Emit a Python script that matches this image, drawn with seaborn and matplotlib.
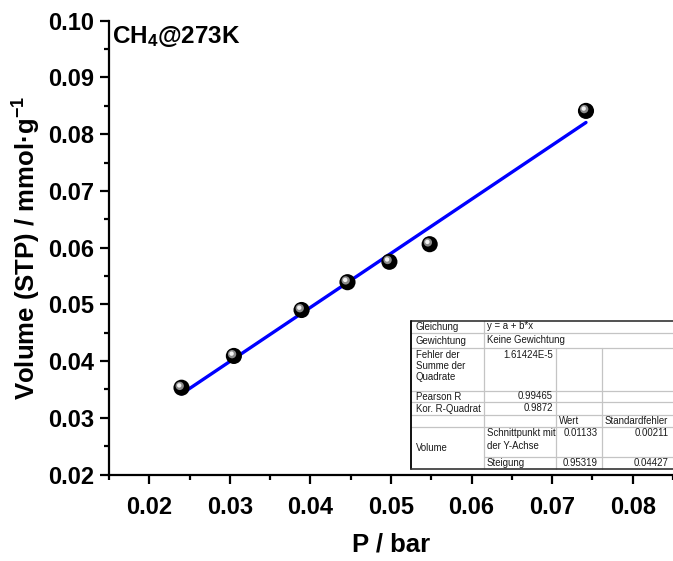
import numpy as np
import pandas as pd
import matplotlib
matplotlib.use("Agg")
import matplotlib.pyplot as plt
import matplotlib.transforms as mtransforms
import seaborn as sns

# ---------------- data ----------------
pressure = [0.0240, 0.0305, 0.0389, 0.0446, 0.0498, 0.0548, 0.0742]
volume = [0.0353, 0.0409, 0.0490, 0.0539, 0.0575, 0.0606, 0.0841]
intercept = 0.01133
slope = 0.95319
x_ticks = [0.02, 0.03, 0.04, 0.05, 0.06, 0.07, 0.08]
y_ticks = [0.02, 0.03, 0.04, 0.05, 0.06, 0.07, 0.08, 0.09, 0.10]
title_text = "CH$_4$@273K"
xlabel_text = "P / bar"
ylabel_text = "Volume (STP) / mmol·g$^{-1}$"

# fit-report table contents
tbl_gleichung = ["Gleichung", "y = a + b*x"]
tbl_gewichtung = ["Gewichtung", "Keine Gewichtung"]
tbl_fehler = ["Fehler der\nSumme der\nQuadrate", "1.61424E-5"]
tbl_pearson = ["Pearson R", "0.99465"]
tbl_kor = ["Kor. R-Quadrat", "0.9872"]
tbl_header = ["Wert", "Standardfehler"]
tbl_volume = "Volume"
tbl_schnitt = ["Schnittpunkt mit", "der Y-Achse", "0.01133", "0.00211"]
tbl_steigung = ["Steigung", "0.95319", "0.04427"]

# ---------------- style ----------------
sns.set_theme(style="ticks")
plt.rcParams["font.family"] = ["Liberation Sans", "DejaVu Sans"]
plt.rcParams["mathtext.fontset"] = "custom"
plt.rcParams["mathtext.rm"] = "Liberation Sans:bold"
plt.rcParams["mathtext.bf"] = "Liberation Sans:bold"
plt.rcParams["mathtext.it"] = "Liberation Sans:bold"
plt.rcParams["mathtext.default"] = "bf"

W, H = 673, 561
fig = plt.figure(figsize=(W / 100, H / 100), dpi=100)
fig.patch.set_facecolor("white")

ax_left, ax_right, ax_top, ax_bottom = 109, 673, 20.7, 474.5
ax = fig.add_axes([ax_left / W, 1 - ax_bottom / H,
                   (ax_right - ax_left) / W, (ax_bottom - ax_top) / H])
ax.set_facecolor("white")

df_pts = pd.DataFrame({"P": pressure, "V": volume})
xfit = [min(pressure), max(pressure)]
df_fit = pd.DataFrame({"P": xfit, "V": [intercept + slope * x for x in xfit]})

sns.lineplot(data=df_fit, x="P", y="V", ax=ax, color="#0000ff", linewidth=2.4, zorder=2)

# spheres: black ball + highlight layers
sns.scatterplot(data=df_pts, x="P", y="V", ax=ax, color="black", s=135,
                edgecolor="none", zorder=3, legend=False)
off1 = mtransforms.offset_copy(ax.transData, fig=fig, x=-1.8, y=1.8, units="dots")
off2 = mtransforms.offset_copy(ax.transData, fig=fig, x=-2.3, y=2.3, units="dots")
ax.scatter(pressure, volume, s=36, color="#8a8a8a", edgecolor="none",
           transform=off1, zorder=4)
ax.scatter(pressure, volume, s=10, color="#f2f2f2", edgecolor="none",
           transform=off2, zorder=5)

ax.set_xlim(0.015, 0.085)
ax.set_ylim(0.02, 0.10)
ax.set_xticks(x_ticks)
ax.set_yticks(y_ticks)
ax.set_xticks(np.arange(0.015, 0.0851, 0.01), minor=True)
ax.set_yticks(np.arange(0.025, 0.1, 0.01), minor=True)
ax.set_xticklabels([f"{v:.2f}" for v in x_ticks])
ax.set_yticklabels([f"{v:.2f}" for v in y_ticks])

for s in ["top", "right"]:
    ax.spines[s].set_visible(False)
for s in ["left", "bottom"]:
    ax.spines[s].set_linewidth(1.6)
    ax.spines[s].set_color("black")

ax.tick_params(axis="both", which="major", direction="out", length=6.5, width=1.6,
               color="black", labelsize=17)
ax.tick_params(axis="x", which="major", pad=9)
ax.tick_params(axis="y", which="major", pad=4)
ax.tick_params(axis="both", which="minor", direction="out", length=3.8, width=1.6,
               color="black")
for lab in ax.get_xticklabels() + ax.get_yticklabels():
    lab.set_fontweight("bold")
    lab.set_color("black")

ax.set_xlabel(xlabel_text, fontsize=18.5, fontweight="bold", labelpad=10, color="black")
ax.set_ylabel(ylabel_text, fontsize=18.5, fontweight="bold", labelpad=4, color="black")

# ---------------- overlay for title & table (pixel coordinates) ----------------
ov = fig.add_axes([0, 0, 1, 1], facecolor="none")
ov.set_xlim(0, W)
ov.set_ylim(H, 0)
ov.axis("off")

ov.text(112, 43, title_text, fontsize=17.5, fontweight="bold", color="black",
        ha="left", va="baseline")

c0, c1, c2, c3, c4 = 411, 484, 556, 602, 673
r = [321, 333, 348, 391, 402, 415, 427, 457, 469]
gray = "#c4c4c4"
ov.add_patch(plt.Rectangle((c0, r[0]), c4 - c0, r[8] - r[0], facecolor="white",
                           edgecolor="none", zorder=1))
lw = 0.9
for y in r[1:7]:
    ov.plot([c0, c4], [y, y], color=gray, lw=lw, zorder=2)
ov.plot([c1, c4], [r[7], r[7]], color=gray, lw=lw, zorder=2)
ov.plot([c1, c1], [r[0], r[8]], color=gray, lw=lw, zorder=2)
for cx in (c2, c3):
    ov.plot([cx, cx], [r[2], r[8]], color=gray, lw=lw, zorder=2)
ov.plot([c0, c4], [r[0], r[0]], color="#222222", lw=1.1, zorder=3)
ov.plot([c0, c0], [r[0], r[8]], color="#111111", lw=1.4, zorder=3)
ov.plot([c0, c4], [r[8], r[8]], color="#333333", lw=1.2, zorder=3)

fs = 6.9
tc = "#1a1a1a"
def t(x, y, s, ha="left", va="center", **kw):
    ov.text(x, y, s, fontsize=fs, color=tc, ha=ha, va=va, zorder=4, **kw)

lx0, lx1 = c0 + 5, c1 + 3
t(lx0, (r[0] + r[1]) / 2, tbl_gleichung[0])
t(lx1, (r[0] + r[1]) / 2 - 1, tbl_gleichung[1])
t(lx0, (r[1] + r[2]) / 2, tbl_gewichtung[0])
t(lx1, (r[1] + r[2]) / 2 - 1, tbl_gewichtung[1])
t(lx0, r[2] + 2, tbl_fehler[0], va="top", linespacing=1.15)
t(c2 - 3, r[2] + 2, tbl_fehler[1], ha="right", va="top")
t(lx0, (r[3] + r[4]) / 2, tbl_pearson[0])
t(c2 - 3, (r[3] + r[4]) / 2 - 1, tbl_pearson[1], ha="right")
t(lx0, (r[4] + r[5]) / 2, tbl_kor[0])
t(c2 - 3, (r[4] + r[5]) / 2 - 1, tbl_kor[1], ha="right")
t(c2 + 3, (r[5] + r[6]) / 2, tbl_header[0])
t(c3 + 3, (r[5] + r[6]) / 2, tbl_header[1])
t(lx0, (r[6] + r[8]) / 2, tbl_volume)
t(lx1, r[6] + 6, tbl_schnitt[0])
t(lx1, r[6] + 19, tbl_schnitt[1])
t(c3 - 4, r[6] + 6, tbl_schnitt[2], ha="right")
t(c4 - 4, r[6] + 6, tbl_schnitt[3], ha="right")
t(lx1, (r[7] + r[8]) / 2, tbl_steigung[0])
t(c3 - 4, (r[7] + r[8]) / 2, tbl_steigung[1], ha="right")
t(c4 - 4, (r[7] + r[8]) / 2, tbl_steigung[2], ha="right")

fig.savefig("out.png", dpi=100, facecolor="white")
